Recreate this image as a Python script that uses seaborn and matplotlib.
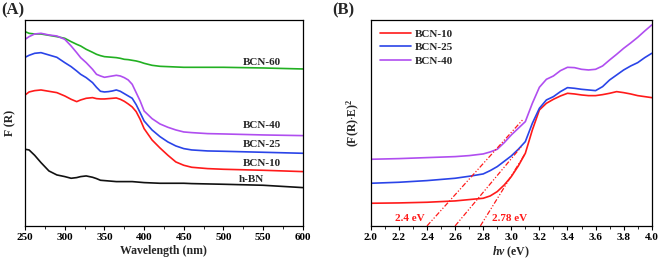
"""UV-vis DRS of h-BN / BCN samples and Tauc plots"""

import matplotlib
matplotlib.use("Agg")

import matplotlib.pyplot as plt
from matplotlib.ticker import MultipleLocator, FormatStrFormatter
import pandas as pd
import seaborn as sns


# panel A: F(R) vs wavelength (arbitrary units)
wl = [250, 255, 262, 270, 280, 290, 300, 308, 315, 320, 327, 335, 340, 345, 350,
      355, 360, 365, 370, 375, 380, 385, 390, 395, 400, 410, 420, 430, 440, 450,
      460, 480, 500, 550, 600]

bcn60 = [583, 578, 576, 576, 572, 568, 563, 553, 545, 540, 530, 521, 515, 511, 508,
         507, 506, 505, 503, 500, 499, 497, 495, 492, 488, 482, 479, 478, 477, 476,
         476, 476, 476, 474, 471]
bcn40 = [560, 568, 576, 578, 573, 570, 560, 540, 520, 505, 490, 470, 455, 450, 446,
         448, 450, 452, 450, 445, 438, 425, 400, 375, 345, 322, 306, 296, 288, 282,
         280, 277, 276, 273, 271]
bcn25 = [506, 512, 518, 520, 513, 506, 490, 478, 465, 455, 445, 430, 416, 404, 402,
         403, 405, 408, 404, 397, 390, 383, 364, 340, 315, 288, 268, 252, 240, 232,
         228, 225, 224, 221, 218]
bcn10 = [393, 402, 406, 408, 404, 400, 390, 380, 373, 378, 383, 385, 382, 381, 381,
         382, 383, 384, 380, 374, 366, 357, 343, 320, 292, 258, 234, 212, 192, 182,
         176, 172, 170, 167, 163]
hbn = [230, 228, 212, 190, 165, 153, 148, 143, 145, 148, 150, 146, 142, 137, 136,
       135, 134, 133, 133, 133, 133, 133, 132, 131, 130, 129, 128, 128, 128, 128,
       127, 126, 125, 122, 115]

# panel B: Tauc plot (F(R)*E)^2 vs photon energy
ev = [2.0, 2.2, 2.4, 2.6, 2.7, 2.8, 2.85, 2.9, 2.95, 3.0, 3.05, 3.1, 3.15, 3.2,
      3.25, 3.3, 3.35, 3.4, 3.45, 3.5, 3.55, 3.6, 3.65, 3.7, 3.75, 3.8, 3.85, 3.9,
      3.95, 4.0]
tauc10 = [68, 69, 71, 75, 79, 83, 90, 103, 123, 148, 180, 218, 288, 348, 368, 380,
          390, 398, 396, 393, 391, 391, 394, 398, 403, 400, 396, 391, 388, 385]
tauc25 = [128, 131, 136, 143, 149, 156, 166, 178, 194, 210, 230, 253, 308, 353, 378,
          388, 403, 415, 413, 410, 408, 406, 418, 438, 453, 468, 480, 490, 505, 518]
tauc40 = [200, 202, 205, 208, 211, 216, 222, 230, 250, 273, 293, 313, 368, 416, 440,
          450, 466, 476, 475, 470, 468, 470, 480, 498, 515, 533, 549, 566, 585, 603]

# Tauc extrapolation lines: (intercept energy, end energy, end value)
fits = [(2.4, 3.08, 318), (2.6, 3.07, 237), (2.78, 3.1, 218)]
gap_labels = ["2.4 eV", "2.78 eV"]
gap_label_x = [2.28, 2.99]

curve_colors = {"BCN-10": "#ff1a1a", "BCN-25": "#2a44e8", "BCN-40": "#b04ef0",
                "BCN-60": "#22b022", "h-BN": "#111111"}

sns.set_style("ticks")
plt.rcParams["font.family"] = ["Liberation Serif", "DejaVu Serif"]
plt.rcParams["font.weight"] = "bold"
plt.rcParams["axes.labelweight"] = "bold"
plt.rcParams["mathtext.fontset"] = "custom"
plt.rcParams["mathtext.rm"] = "Liberation Serif:bold"
plt.rcParams["mathtext.it"] = "Liberation Serif:italic:bold"
plt.rcParams["mathtext.bf"] = "Liberation Serif:bold"

df_a = pd.DataFrame({"wl": wl, "BCN-60": bcn60, "BCN-40": bcn40, "BCN-25": bcn25,
                     "BCN-10": bcn10, "h-BN": hbn})
df_a = df_a.melt(id_vars="wl", var_name="sample", value_name="F")

df_b = pd.DataFrame({"ev": ev, "BCN-10": tauc10, "BCN-25": tauc25, "BCN-40": tauc40})
df_b = df_b.melt(id_vars="ev", var_name="sample", value_name="T")

fig = plt.figure(figsize=(6.61, 2.63), dpi=100)
ax1 = fig.add_axes([0.038, 0.141, 0.420, 0.783])
ax2 = fig.add_axes([0.561, 0.141, 0.425, 0.783])

sns.lineplot(data=df_a, x="wl", y="F", hue="sample", palette=curve_colors,
             linewidth=1.2, legend=False, ax=ax1)
ax1.set_xlim(250, 600)
ax1.set_ylim(0, 618)
ax1.set_yticks([])
ax1.xaxis.set_major_locator(MultipleLocator(50))
ax1.xaxis.set_minor_locator(MultipleLocator(25))
ax1.set_xlabel("Wavelength (nm)", fontsize=8.5, labelpad=2)
ax1.set_ylabel("F (R)", fontsize=8.5, labelpad=6)

label_y = {"BCN-60": 490, "BCN-40": 300, "BCN-25": 243, "BCN-10": 188, "h-BN": 140}
for name, yy in label_y.items():
    xx = 519 if name == "h-BN" else 524
    ax1.text(xx, yy, name, fontsize=8, fontweight="bold", va="center", ha="left")

sns.lineplot(data=df_b, x="ev", y="T", hue="sample", palette=curve_colors,
             linewidth=1.2, ax=ax2)
for x0, x1, y1 in fits:
    ax2.plot([x0, x1], [0, y1], color="#ff1a1a", linewidth=0.9,
             linestyle=(0, (4, 1.5, 1, 1.5, 1, 1.5)))
for txt, xx in zip(gap_labels, gap_label_x):
    ax2.text(xx, 22, txt, color="#ff1a1a", fontsize=8, fontweight="bold",
             ha="center", va="center")
ax2.set_xlim(2.0, 4.0)
ax2.set_ylim(0, 618)
ax2.set_yticks([])
ax2.xaxis.set_major_locator(MultipleLocator(0.2))
ax2.xaxis.set_minor_locator(MultipleLocator(0.1))
ax2.xaxis.set_major_formatter(FormatStrFormatter("%.1f"))
ax2.set_xlabel(r"$hv$ (eV)", fontsize=8.5, labelpad=2)
ax2.set_ylabel(r"(F(R)$\cdot$E)$^2$", fontsize=8.5, labelpad=6)
leg = ax2.legend(loc="upper left", frameon=False, fontsize=8, handlelength=2.8,
                 borderaxespad=0.4, labelspacing=0.35, handletextpad=0.4,
                 title=None)
for t in leg.get_texts():
    t.set_fontweight("bold")

for ax in (ax1, ax2):
    for sp in ax.spines.values():
        sp.set_visible(True)
        sp.set_linewidth(0.9)
        sp.set_color("black")
    ax.tick_params(axis="x", which="major", labelsize=8, length=3, width=0.8,
                   pad=2, colors="black")
    ax.tick_params(axis="x", which="minor", length=1.8, width=0.7)
    for lab in ax.get_xticklabels():
        lab.set_fontweight("bold")

fig.text(0.002, 0.99, "(A)", fontsize=12, fontweight="bold", va="top")
fig.text(0.502, 0.99, "(B)", fontsize=12, fontweight="bold", va="top")

fig.savefig("out.png", dpi=100)
